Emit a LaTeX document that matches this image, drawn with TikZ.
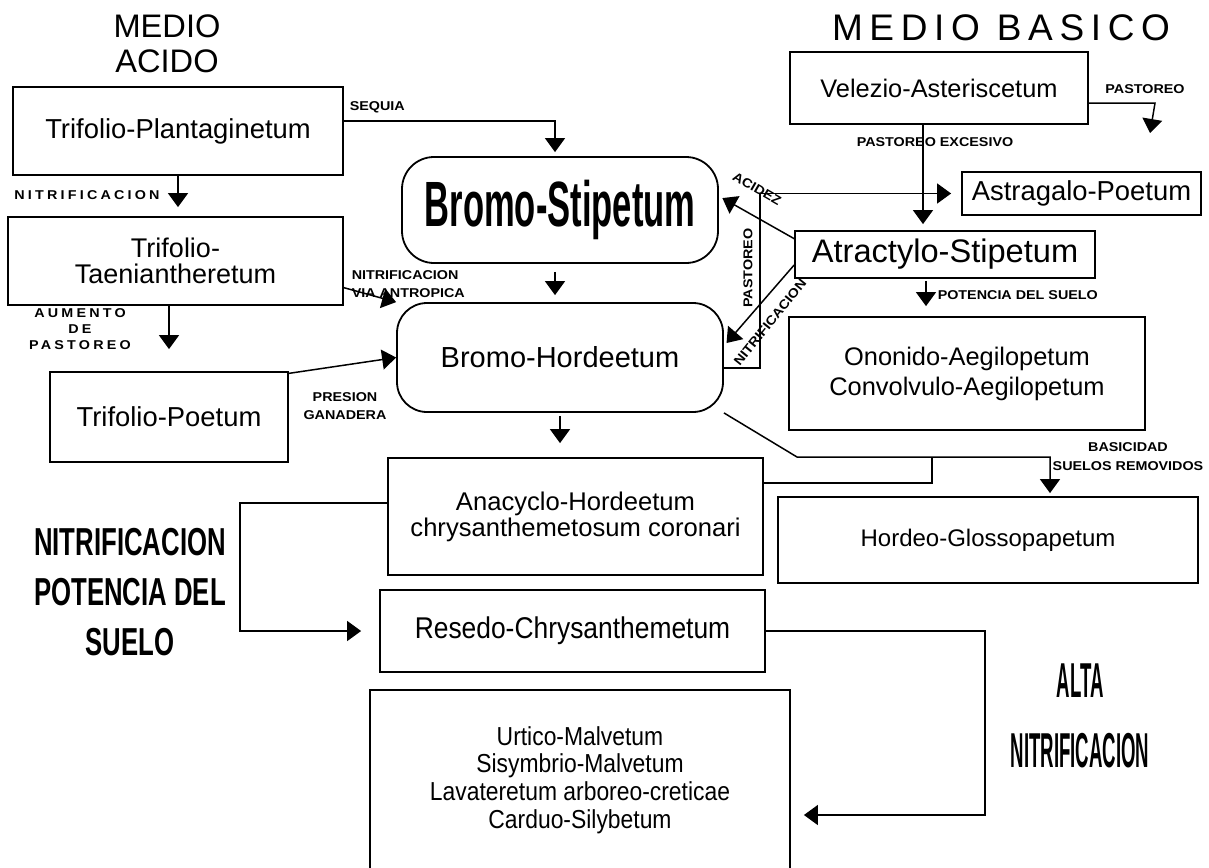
\documentclass[tikz,border=0pt]{standalone}
\usepackage{fontspec}
\setmainfont{Liberation Sans}
\newfontfamily\labfont[FakeStretch=1.12]{Liberation Sans}
\newfontfamily\labspfont[FakeStretch=1.12,LetterSpace=25]{Liberation Sans}
\newfontfamily\titlefont[LetterSpace=18]{Liberation Sans}
\newfontfamily\condfont[FakeStretch=0.54]{Liberation Sans}
\newfontfamily\semicondfont[FakeStretch=0.66]{Liberation Sans}
\newfontfamily\tallfont[FakeStretch=0.38]{Liberation Sans}
\newfontfamily\narrowfont[FakeStretch=0.88]{Liberation Sans}
\usetikzlibrary{arrows.meta}

\begin{document}
\begin{tikzpicture}[x=0.5pt,y=-0.5pt,>={Triangle[length=7pt,width=10pt]},line width=0.75pt,
  boxnode/.style={draw,line width=0.9pt,inner sep=0pt,align=center},
  roundnode/.style={boxnode,rounded corners=15pt},
  lab/.style={font=\labfont\bfseries\fontsize{6.4}{9}\selectfont,inner sep=0pt,align=center},
  labsp/.style={lab,font=\labspfont\bfseries\fontsize{6.4}{8}\selectfont}]
  \useasboundingbox (0,0) rectangle (1209,867);
  \clip (0,0) rectangle (1209,867);

  % titles
  \node[font=\fontsize{16.3}{17.5}\selectfont,align=center] (tacido) at (167,44) {MEDIO\\ACIDO};
  \node[font=\titlefont\fontsize{18.5}{20}\selectfont] (tbasico) at (1001,28) {MEDIO BASICO};
  \node[font=\semicondfont\bfseries\fontsize{19.5}{25}\selectfont,align=center] (tnitr) at (130,592) {NITRIFICACION\\POTENCIA DEL\\SUELO};
  \node[font=\tallfont\bfseries\fontsize{24.5}{35}\selectfont,align=center] (talta) at (1080,716) {ALTA\\NITRIFICACION};

  % acid side
  \node[boxnode,minimum width=165pt,minimum height=44pt,font=\fontsize{13.7}{16}\selectfont] (trifplant) at (178,131) {Trifolio-Plantaginetum};
  \node[boxnode,minimum width=167.5pt,minimum height=44pt,font=\fontsize{13.5}{13}\selectfont] (triftaen) at (175.5,261) {Trifolio-\\Taeniantheretum};
  \node[boxnode,minimum width=119pt,minimum height=45pt,font=\fontsize{13.7}{16}\selectfont] (trifpoet) at (169,417) {Trifolio-Poetum};

  % centre column
  \node[roundnode,minimum width=158pt,minimum height=53pt,rounded corners=16pt,font=\condfont\bfseries\fontsize{32}{36}\selectfont] (bromstip) at (560,210) {\raisebox{-3pt}{Bromo-Stipetum}};
  \node[roundnode,minimum width=163pt,minimum height=54.5pt,font=\fontsize{14.5}{16}\selectfont] (bromhord) at (560,357.5) {Bromo-Hordeetum};
  \node[boxnode,minimum width=187.5pt,minimum height=58.5pt,font=\fontsize{12.8}{11.5}\selectfont] (anacyclo) at (575.5,516.5) {Anacyclo-Hordeetum\\chrysanthemetosum coronari};
  \node[boxnode,minimum width=192.5pt,minimum height=41pt,font=\narrowfont\fontsize{15}{16}\selectfont] (resedo) at (572.5,631) {Resedo-Chrysanthemetum};
  \node[boxnode,minimum width=210pt,minimum height=90pt,font=\narrowfont\fontsize{13}{13.8}\selectfont] (urtico) at (580,780) {Urtico-Malvetum\\Sisymbrio-Malvetum\\Lavateretum arboreo-creticae\\Carduo-Silybetum};

  % basic side
  \node[boxnode,minimum width=149pt,minimum height=36pt,font=\fontsize{12.7}{15}\selectfont] (velezio) at (939,88) {Velezio-Asteriscetum};
  \node[boxnode,minimum width=119.5pt,minimum height=21.5pt,font=\fontsize{13.7}{15}\selectfont] (astrag) at (1081.5,193.5) {Astragalo-Poetum};
  \node[boxnode,minimum width=150pt,minimum height=23.5pt,font=\fontsize{16.3}{18}\selectfont] (atract) at (945,254.5) {Atractylo-Stipetum};
  \node[boxnode,minimum width=178pt,minimum height=56.5pt,font=\fontsize{12.7}{15}\selectfont] (ononido) at (967,373.5) {Ononido-Aegilopetum\\Convolvulo-Aegilopetum};
  \node[boxnode,minimum width=210pt,minimum height=43pt,font=\fontsize{12}{14}\selectfont] (hordeo) at (988,540) {Hordeo-Glossopapetum};

  % labels
  \node[lab,anchor=west] (lsequia) at (349,107) {SEQUIA};
  \node[labsp] (lnitra) at (87,195) {NITRIFICACION};
  \node[labsp] (laument) at (80,329) {AUMENTO\\DE\\PASTOREO};
  \node[lab] (lpresion) at (345,406) {PRESION\\GANADERA};
  \node[lab,anchor=west,align=left] (lvia) at (351,284) {NITRIFICACION\\VIA ANTROPICA};
  \node[lab] (lexces) at (935,142) {PASTOREO EXCESIVO};
  \node[lab] (lpast) at (1145,89) {PASTOREO};
  \node[lab,anchor=west] (lpot) at (937,295) {POTENCIA DEL SUELO};
  \node[lab,font=\labfont\bfseries\fontsize{6.4}{9.5}\selectfont] (lbas) at (1128,457) {BASICIDAD\\SUELOS REMOVIDOS};
  \node[lab,rotate=-30] (lacid) at (757,189) {ACIDEZ};
  \node[lab,rotate=90] (lpastv) at (748,268) {PASTOREO};
  \node[lab,rotate=51] (lnitrb) at (770,322) {NITRIFICACION};

  % connectors, acid side
  \coordinate (seqknee) at (555,121);
  \draw[->,shorten >=2pt] (trifplant.east |- seqknee) -- (seqknee) -- (seqknee |- bromstip.north);
  \draw[->,shorten >=4.5pt] (trifplant.south) -- (trifplant.south |- triftaen.north);
  \draw[->,shorten >=11pt] (triftaen.south -| trifpoet.north) -- (trifpoet.north);
  \draw[->] (trifpoet.20) -- (bromhord.west);
  \draw[->] (triftaen.-9) -- (bromhord.north west);
  \draw[->,shorten <=4pt,shorten >=3.5pt] (bromstip.south -| seqknee) -- (bromhord.north -| seqknee);
  \draw[->,shorten <=1.5pt,shorten >=7pt] (bromhord.south) -- (bromhord.south |- anacyclo.north);
  \coordinate (lcorner) at (240,503);
  \draw[->,shorten >=9pt] (anacyclo.west |- lcorner) -- (lcorner) |- (resedo.west);
  \coordinate (rcorner) at (985,815);
  \draw[->,shorten >=6.5pt] (resedo.east) -| (rcorner) -- (urtico.east |- rcorner);

  % connectors, basic side
  \coordinate (vex) at (923,124);
  \draw[->,shorten >=3pt] (velezio.south -| vex) -- (atract.north -| vex);
  \coordinate (pknee) at (1155,103);
  \coordinate (pend) at (1150,133);
  \draw[->] (velezio.east |- pknee) -- (pknee) -- (pend);
  \coordinate (ploop) at (760,368);
  \draw[->,shorten >=5pt] (bromhord.east |- ploop) -- (ploop) |- (astrag.west);
  \draw[->,shorten >=2pt] (atract.174) -- (bromstip.5);
  \draw[->,shorten >=2pt] (atract.184) -- (bromhord.4);
  \coordinate (potx) at (926,0);
  \draw[->,shorten <=1pt,shorten >=5pt] (atract.south -| potx) -- (ononido.north -| potx);
  \coordinate (basa) at (797,457);
  \coordinate (basb) at (1050,457);
  \coordinate (basc) at (932,457);
  \coordinate (basd) at (932,483);
  \draw[->,shorten >=1.5pt] (bromhord.south east) -- (basa) -- (basb) -- (basb |- hordeo.north);
  \draw (basc) -- (basd) -- (anacyclo.east |- basd);
\end{tikzpicture}
\end{document}
